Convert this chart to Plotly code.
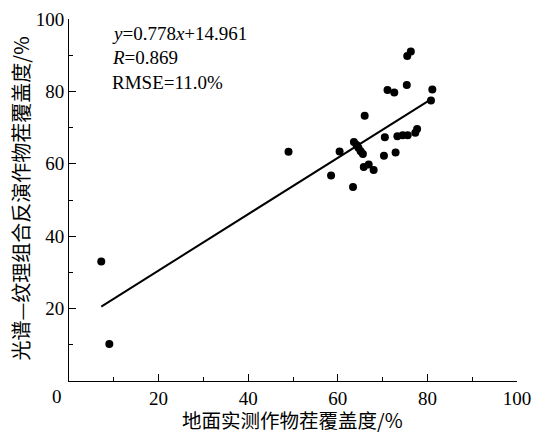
import plotly.graph_objects as go

# Ground-measured residue cover (%) vs. spectral-texture inverted cover (%)
measured = [7.2, 9.0, 49.0, 58.5, 60.4, 63.4, 63.6, 64.2, 64.6, 65.1, 65.6,
            66.0, 65.8, 66.9, 68.0, 70.5, 70.3, 72.9, 71.1, 72.6, 75.4,
            75.5, 76.3, 73.3, 74.5, 75.6, 77.3, 77.7, 80.8, 81.1]
inverted = [33.0, 10.2, 63.3, 56.8, 63.4, 53.6, 66.0, 65.2, 64.4, 63.5, 62.7,
            73.3, 59.1, 59.8, 58.3, 67.3, 62.2, 63.1, 80.4, 79.7, 81.8,
            89.8, 91.0, 67.6, 67.9, 67.9, 68.6, 69.6, 77.5, 80.5]

slope = 0.778
intercept = 14.961
fit_x = [min(measured), 80.6]
fit_y = [slope * v + intercept for v in fit_x]

tick_vals = [0, 20, 40, 60, 80, 100]
tick_text = ["", "20", "40", "60", "80", "100"]

stats_lines = ["<i>y</i>=0.778<i>x</i>+14.961", "<i>R</i>=0.869", "RMSE=11.0%"]
x_title = "地面实测作物茬覆盖度/%"
y_title = "光谱—纹理组合反演作物茬覆盖度/%"

serif = "Liberation Serif, Times New Roman, serif"
cjk = "Noto Sans CJK SC, sans-serif"

fig = go.Figure()
fig.add_trace(go.Scatter(x=fit_x, y=fit_y, mode="lines",
                         line=dict(color="black", width=2), showlegend=False))
fig.add_trace(go.Scatter(x=measured, y=inverted, mode="markers",
                         marker=dict(color="black", size=8), showlegend=False))

axis_common = dict(range=[0, 100], tickmode="array", tickvals=tick_vals,
                   ticktext=tick_text, ticks="inside", ticklen=7, tickwidth=1,
                   tickcolor="black", showline=True, linecolor="black",
                   linewidth=1, showgrid=False, zeroline=False,
                   automargin=False,
                   tickfont=dict(family=serif, size=19, color="black"),
                   minor=dict(dtick=10, tick0=0, ticks="inside", ticklen=4,
                              tickcolor="black", showgrid=False))
fig.update_xaxes(**axis_common)
fig.update_yaxes(**axis_common)

annotations = []
for i, t in enumerate(stats_lines):
    annotations.append(dict(text=t, xref="paper", yref="paper",
                            x=(110 - 68.5) / 448.5,
                            y=(381 - (33 + 24.5 * i)) / 362,
                            xanchor="left", yanchor="middle", showarrow=False,
                            font=dict(family=serif, size=19, color="black")))
annotations.append(dict(text="0", xref="paper", yref="paper",
                        x=(56 - 68.5) / 448.5, y=(381 - 396) / 362,
                        xanchor="center", yanchor="middle", showarrow=False,
                        font=dict(family=serif, size=19, color="black")))
annotations.append(dict(text=x_title, xref="paper", yref="paper",
                        x=(292 - 68.5) / 448.5, y=(381 - 419) / 362,
                        xanchor="center", yanchor="middle", showarrow=False,
                        font=dict(family=cjk, size=19.5, color="black")))
annotations.append(dict(text=y_title, xref="paper", yref="paper",
                        x=(20 - 68.5) / 448.5, y=(381 - 199) / 362,
                        xanchor="center", yanchor="middle", showarrow=False,
                        textangle=-90,
                        font=dict(family=cjk, size=20, color="black")))

fig.update_layout(width=535, height=433, autosize=False,
                  margin=dict(l=68.5, r=18, t=19, b=52, pad=0),
                  plot_bgcolor="white", paper_bgcolor="white",
                  annotations=annotations)

fig.write_html("out.html",
               config={"displayModeBar": False},
               post_script="document.body.style.margin='0';"
                           "document.body.style.overflow='hidden';")
